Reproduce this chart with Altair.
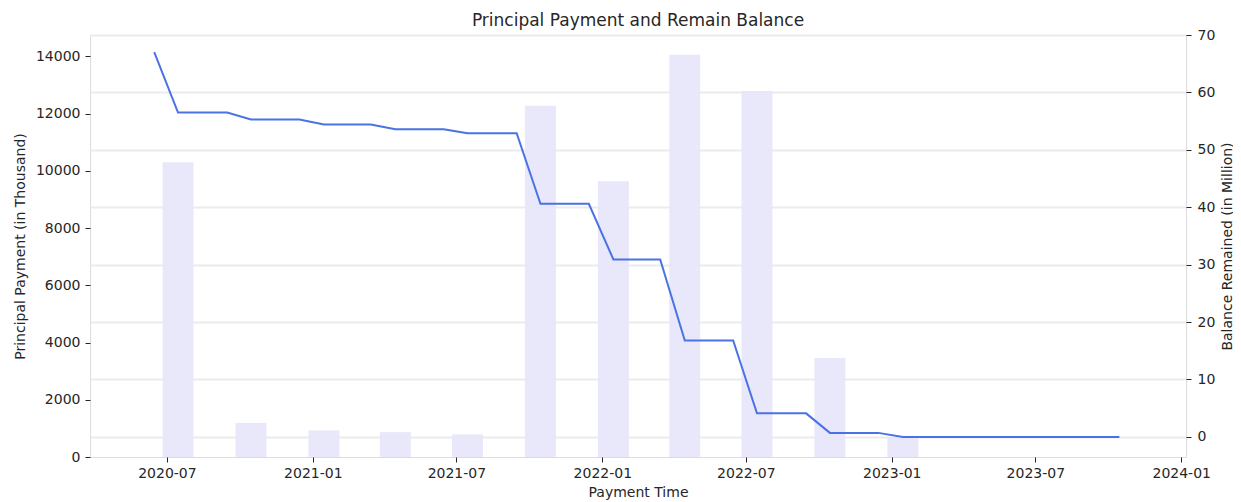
import altair as alt
import pandas as pd

# ---- data ----
line_dates = [
    "2020-06-15",
    "2020-07-15", "2020-08-15", "2020-09-15",
    "2020-10-15", "2020-11-15", "2020-12-15",
    "2021-01-15", "2021-02-15", "2021-03-15",
    "2021-04-15", "2021-05-15", "2021-06-15",
    "2021-07-15", "2021-08-15", "2021-09-15",
    "2021-10-15", "2021-11-15", "2021-12-15",
    "2022-01-15", "2022-02-15", "2022-03-15",
    "2022-04-15", "2022-05-15", "2022-06-15",
    "2022-07-15", "2022-08-15", "2022-09-15",
    "2022-10-15", "2022-11-15", "2022-12-15",
    "2023-01-15", "2023-02-15", "2023-03-15",
    "2023-04-15", "2023-05-15", "2023-06-15",
    "2023-07-15", "2023-08-15", "2023-09-15",
    "2023-10-15",
]
balance_million = [
    67.0,
    56.5, 56.5, 56.5,
    55.3, 55.3, 55.3,
    54.4, 54.4, 54.4,
    53.6, 53.6, 53.6,
    52.9, 52.9, 52.9,
    40.6, 40.6, 40.6,
    30.9, 30.9, 30.9,
    16.8, 16.8, 16.8,
    4.1, 4.1, 4.1,
    0.7, 0.7, 0.7,
    0.0, 0.0, 0.0,
    0.0, 0.0, 0.0,
    0.0, 0.0, 0.0,
    0.0,
]
bar_dates = [
    "2020-07-15", "2020-10-15", "2021-01-15", "2021-04-15",
    "2021-07-15", "2021-10-15", "2022-01-15", "2022-04-15",
    "2022-07-15", "2022-10-15", "2023-01-15",
]
payment_thousand = [10300, 1190, 930, 870, 790, 12280, 9640, 14060, 12790, 3460, 700]

x_tick_dates = ["2020-07-01", "2021-01-01", "2021-07-01", "2022-01-01",
                "2022-07-01", "2023-01-01", "2023-07-01", "2024-01-01"]
x_domain_dates = ["2020-03-26", "2024-01-07"]
left_ticks = [0, 2000, 4000, 6000, 8000, 10000, 12000, 14000]
right_ticks = [0, 10, 20, 30, 40, 50, 60, 70]


def ms(s):
    return int(pd.Timestamp(s, tz="UTC").value // 10**6)


line_df = pd.DataFrame({"date": line_dates, "balance": balance_million})
bar_df = pd.DataFrame({"date": bar_dates, "payment": payment_thousand})

FONT = "DejaVu Sans"
TXT = "#262626"
W, H = 1096, 422

xscale = alt.Scale(type="utc", domain=[ms(d) for d in x_domain_dates], nice=False, padding=0)

bars = alt.Chart(bar_df).mark_bar(size=31, color="#E6E6FA", opacity=0.92).encode(
    x=alt.X(
        "date:T",
        scale=xscale,
        axis=alt.Axis(
            values=[ms(d) for d in x_tick_dates],
            format="%Y-%m",
            title="Payment Time",
            grid=False,
            domain=False,
            tickSize=5,
            tickColor=TXT,
            labelPadding=4,
            labelFontSize=14,
            labelColor=TXT,
            labelFont=FONT,
            titleFont=FONT,
            titleFontSize=14,
            titleFontWeight="normal",
            titleColor=TXT,
            titleX=W / 2,
            titleY=35,
            titleBaseline="middle",
            titleAlign="center",
            labelFlush=False,
            labelOverlap=False,
        ),
    ),
    y=alt.Y(
        "payment:Q",
        scale=alt.Scale(domain=[0, 14750], nice=False, zero=False),
        axis=alt.Axis(
            values=left_ticks,
            format="d",
            title="Principal Payment (in Thousand)",
            grid=False,
            domain=False,
            tickSize=5,
            tickColor=TXT,
            labelPadding=5,
            labelFontSize=14,
            labelColor=TXT,
            labelFont=FONT,
            titleFont=FONT,
            titleFontSize=14,
            titleFontWeight="normal",
            titleColor=TXT,
            titleAngle=270,
            titleX=-70,
            titleY=H / 2,
            titleBaseline="middle",
            titleAlign="center",
            labelFlush=False,
            labelOverlap=False,
        ),
    ),
)

line = alt.Chart(line_df).mark_line(color="#4a72e4", strokeWidth=2).encode(
    x=alt.X("date:T", scale=xscale),
    y=alt.Y(
        "balance:Q",
        scale=alt.Scale(domain=[-3.5, 70], nice=False, zero=False),
        axis=alt.Axis(
            orient="right",
            values=right_ticks,
            format="d",
            title="Balance Remained (in Million)",
            grid=True,
            gridColor="#ebebeb",
            gridWidth=2,
            domain=False,
            tickSize=5,
            tickColor=TXT,
            labelPadding=6,
            labelFontSize=14,
            labelColor=TXT,
            labelFont=FONT,
            titleFont=FONT,
            titleFontSize=14,
            titleFontWeight="normal",
            titleColor=TXT,
            titleAngle=270,
            titleX=41,
            titleY=H / 2,
            titleBaseline="middle",
            titleAlign="center",
            labelFlush=False,
            labelOverlap=False,
        ),
    ),
)

chart = (
    alt.layer(bars, line)
    .resolve_scale(y="independent")
    .properties(
        width=W,
        height=H,
        autosize=alt.AutoSizeParams(type="none"),
        padding={"left": 82, "top": 27, "right": 47, "bottom": 45},
        title=alt.TitleParams(
            "Principal Payment and Remain Balance",
            font=FONT,
            fontSize=17,
            fontWeight="normal",
            color=TXT,
            anchor="middle",
            offset=0,
            dy=2,
        ),
    )
    .configure_view(stroke=None)
    .configure(background="white")
)

chart.save("out.html", embed_options={"renderer": "svg", "actions": False})
